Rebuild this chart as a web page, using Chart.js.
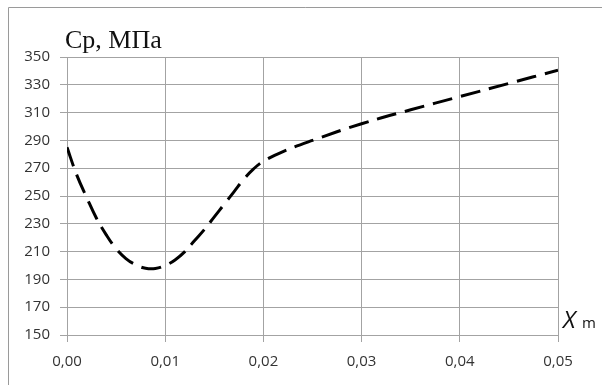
<!DOCTYPE html>
<html>
<head>
<meta charset="utf-8">
<script src="https://cdn.jsdelivr.net/npm/chart.js@4/dist/chart.umd.min.js"></script>
<style>
  html, body { margin: 0; padding: 0; background: #fff; }
  #wrap { width: 602px; height: 385px; position: relative; }
</style>
</head>
<body>
<div id="wrap"><canvas id="c" width="602" height="385"></canvas></div>
<script>
// Mean contact pressure Cp (MPa) against relative displacement Xm
const xValues = [0, 0.001, 0.002, 0.003, 0.004, 0.005, 0.006, 0.007, 0.008, 0.009,
  0.010, 0.011, 0.012, 0.013, 0.014, 0.015, 0.016, 0.017, 0.018, 0.019,
  0.020, 0.022, 0.025, 0.030, 0.035, 0.040, 0.045, 0.050];
const cpValues = [285, 265, 249, 234, 222, 212, 205, 200.5, 198, 197.8,
  200, 204, 210, 218, 226, 235, 244, 253, 262, 269.5,
  275, 282, 290, 302, 312, 321.5, 331, 340.5];
const xTickLabels = ['0,00', '0,01', '0,02', '0,03', '0,04', '0,05'];
const yTickLabels = ['150', '170', '190', '210', '230', '250', '270', '290', '310', '330', '350'];

const GRID = '#a3a3a3';
const TEXT = '#333333';

const decorations = {
  id: 'decorations',
  beforeDraw(chart) {
    const ctx = chart.ctx;
    ctx.save();
    ctx.strokeStyle = '#9a9a9a';
    ctx.lineWidth = 1;
    ctx.beginPath();
    ctx.moveTo(8.5, 390);
    ctx.lineTo(8.5, 7.5);
    ctx.lineTo(610, 7.5);
    ctx.stroke();
    ctx.restore();
  },
  afterDraw(chart) {
    const ctx = chart.ctx;
    const a = chart.chartArea;
    ctx.save();
    ctx.fillStyle = '#111';
    ctx.textBaseline = 'alphabetic';
    ctx.textAlign = 'left';
    ctx.font = '26px "Liberation Serif", "Times New Roman", serif';
    ctx.fillText('Ср, МПа', a.left - 2, 48);
    ctx.font = 'italic 24px "Open Sans", sans-serif';
    ctx.fillText('X', a.right + 5, 328);
    ctx.font = '15px "Open Sans", sans-serif';
    ctx.fillText('m', a.right + 24, 328);
    ctx.restore();
  }
};

new Chart(document.getElementById('c'), {
  type: 'line',
  data: {
    datasets: [{
      data: xValues.map((x, i) => ({ x: x, y: cpValues[i] })),
      borderColor: '#000',
      borderWidth: 3,
      borderDash: [20, 9],
      pointRadius: 0,
      tension: 0.4,
      fill: false
    }]
  },
  options: {
    responsive: false,
    animation: false,
    events: [],
    layout: { padding: { left: 0, right: 44, top: 57, bottom: 0 } },
    plugins: { legend: { display: false }, tooltip: { enabled: false } },
    scales: {
      x: {
        type: 'linear',
        min: 0,
        max: 0.05,
        afterFit(s) { s.height = 50; },
        afterBuildTicks(s) {
          s.ticks = xTickLabels.map((t, i) => ({ value: i * 0.01 }));
        },
        ticks: {
          callback: (v, i) => xTickLabels[i],
          color: TEXT,
          font: { family: '"Open Sans", sans-serif', size: 15 },
          padding: 11,
          maxRotation: 0
        },
        grid: { color: GRID, tickColor: GRID, tickLength: 7, lineWidth: 1 },
        border: { color: GRID, width: 1 }
      },
      y: {
        type: 'linear',
        min: 150,
        max: 350,
        afterFit(s) { s.width = 67; },
        afterBuildTicks(s) {
          s.ticks = yTickLabels.map(t => ({ value: Number(t) }));
        },
        ticks: {
          callback: (v, i) => yTickLabels[i],
          color: TEXT,
          font: { family: '"Open Sans", sans-serif', size: 15 },
          padding: 10
        },
        grid: { color: GRID, tickColor: GRID, tickLength: 7, lineWidth: 1 },
        border: { color: GRID, width: 1 }
      }
    }
  },
  plugins: [decorations]
});
</script>
</body>
</html>
